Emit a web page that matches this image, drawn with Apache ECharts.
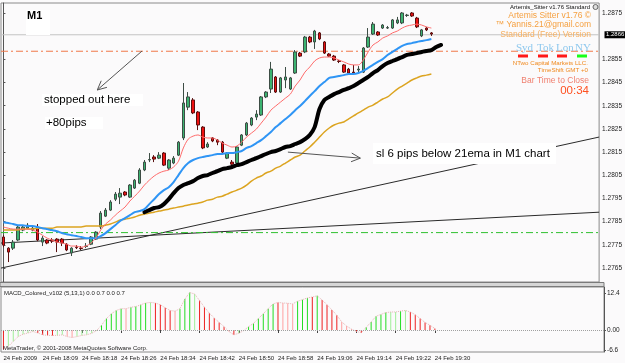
<!DOCTYPE html>
<html><head><meta charset="utf-8">
<script src="https://cdn.jsdelivr.net/npm/echarts@6/dist/echarts.min.js"></script>
<style>html,body{margin:0;padding:0;background:#fbfafb}#c{width:625px;height:363px}</style>
</head><body><div id="c"></div>
<script>
// ---------- data ----------
const tickLabels = ['24 Feb 2009','24 Feb 18:09','24 Feb 18:18','24 Feb 18:26','24 Feb 18:34','24 Feb 18:42',
  '24 Feb 18:50','24 Feb 18:58','24 Feb 19:06','24 Feb 19:14','24 Feb 19:22','24 Feb 19:30'];
const priceTicks = [1.2765,1.2775,1.2785,1.2795,1.2805,1.2815,1.2825,1.2835,1.2845,1.2855,1.2875];
const macdTicks = [12.4, 0, -6.6];

const opens = [1.27784,1.27736,1.27736,1.27771,1.27814,1.27822,1.27814,1.27827,1.27762,1.27771,
1.27771,1.27775,1.27775,1.27753,1.27715,1.27740,1.27736,1.27743,1.27753,1.27775,
1.27827,1.27874,1.27900,1.27947,1.27956,1.27978,1.27956,1.27995,1.28016,1.28073,
1.28116,1.28129,1.28124,1.28146,1.28081,1.28103,1.28137,1.28211,1.28344,1.28375,
1.28323,1.28258,1.28172,1.28211,1.28202,1.28193,1.28124,1.28107,1.28103,1.28180,
1.28224,1.28267,1.28301,1.28310,1.28388,1.28422,1.28474,1.28409,1.28461,1.28422,
1.28491,1.28577,1.28582,1.28646,1.28625,1.28664,1.28625,1.28573,1.28564,1.28543,
1.28526,1.28508,1.28495,1.28504,1.28495,1.28603,1.28659,1.28668,1.28685,1.28685,
1.28685,1.28707,1.28707,1.28739,1.28750,1.28728,1.28651,1.28685,1.28664];
const closes = [1.27749,1.27719,1.27762,1.27827,1.27827,1.27835,1.27822,1.27771,1.27779,1.27758,
1.27766,1.27762,1.27758,1.27728,1.27736,1.27738,1.27734,1.27745,1.27784,1.27805,
1.27887,1.27900,1.27935,1.27969,1.27973,1.27965,1.28008,1.28029,1.28073,1.28107,
1.28118,1.28120,1.28137,1.28094,1.28116,1.28124,1.28193,1.28362,1.28388,1.28319,
1.28267,1.28168,1.28185,1.28198,1.28193,1.28150,1.28146,1.28098,1.28172,1.28224,
1.28275,1.28297,1.28314,1.28388,1.28409,1.28508,1.28409,1.28470,1.28474,1.28470,
1.28582,1.28564,1.28646,1.28625,1.28672,1.28638,1.28577,1.28564,1.28547,1.28541,
1.28495,1.28491,1.28491,1.28508,1.28599,1.28646,1.28702,1.28655,1.28698,1.28687,
1.28720,1.28720,1.28750,1.28741,1.28737,1.28690,1.28677,1.28677,1.28659];
const lows = [1.27740,1.27676,1.27728,1.27766,1.27809,1.27818,1.27809,1.27766,1.27745,1.27753,
1.27758,1.27719,1.27745,1.27723,1.27702,1.27732,1.27728,1.27736,1.27749,1.27771,
1.27818,1.27870,1.27896,1.27939,1.27926,1.27960,1.27952,1.27991,1.28012,1.28068,
1.28107,1.28107,1.28120,1.28090,1.28073,1.28098,1.28133,1.28202,1.28331,1.28314,
1.28245,1.28163,1.28168,1.28193,1.28180,1.28146,1.28120,1.28094,1.28098,1.28176,
1.28219,1.28262,1.28288,1.28306,1.28383,1.28405,1.28405,1.28405,1.28426,1.28418,
1.28487,1.28560,1.28577,1.28620,1.28595,1.28633,1.28573,1.28560,1.28543,1.28534,
1.28491,1.28487,1.28487,1.28495,1.28491,1.28599,1.28655,1.28651,1.28681,1.28681,
1.28681,1.28702,1.28702,1.28733,1.28733,1.28685,1.28646,1.28672,1.28651];
const highs = [1.27792,1.27740,1.27771,1.27835,1.27835,1.27844,1.27831,1.27840,1.27788,1.27775,
1.27779,1.27779,1.27779,1.27758,1.27740,1.27749,1.27745,1.27758,1.27788,1.27809,
1.27896,1.27909,1.27943,1.27978,1.27995,1.27982,1.28012,1.28034,1.28081,1.28116,
1.28146,1.28137,1.28150,1.28150,1.28120,1.28133,1.28198,1.28448,1.28409,1.28383,
1.28327,1.28262,1.28193,1.28215,1.28206,1.28198,1.28150,1.28116,1.28176,1.28228,
1.28280,1.28301,1.28331,1.28392,1.28413,1.28539,1.28478,1.28474,1.28517,1.28474,
1.28590,1.28582,1.28651,1.28651,1.28677,1.28668,1.28629,1.28577,1.28569,1.28547,
1.28530,1.28513,1.28526,1.28521,1.28603,1.28685,1.28711,1.28672,1.28702,1.28694,
1.28724,1.28733,1.28754,1.28746,1.28754,1.28733,1.28681,1.28690,1.28668];

const maRed = [1.27827,1.27822,1.27818,1.27818,1.27818,1.27818,1.27814,1.27805,1.27792,1.27779,
1.27771,1.27762,1.27758,1.27753,1.27745,1.27745,1.27740,1.27745,1.27758,1.27779,
1.27814,1.27840,1.27857,1.27878,1.27896,1.27913,1.27939,1.27960,1.27982,1.28008,
1.28029,1.28047,1.28060,1.28068,1.28073,1.28086,1.28111,1.28168,1.28206,1.28219,
1.28224,1.28215,1.28211,1.28211,1.28202,1.28189,1.28180,1.28172,1.28176,1.28193,
1.28215,1.28232,1.28249,1.28275,1.28301,1.28331,1.28349,1.28366,1.28383,1.28400,
1.28435,1.28461,1.28495,1.28517,1.28543,1.28556,1.28560,1.28560,1.28556,1.28547,
1.28539,1.28530,1.28526,1.28526,1.28547,1.28582,1.28612,1.28625,1.28642,1.28651,
1.28664,1.28672,1.28685,1.28694,1.28698,1.28702,1.28698,1.28690,1.28685];
const maBlue = [1.27848,1.27844,1.27840,1.27835,1.27835,1.27831,1.27831,1.27827,1.27822,1.27818,
1.27814,1.27809,1.27801,1.27796,1.27792,1.27788,1.27784,1.27779,1.27779,1.27779,
1.27788,1.27801,1.27818,1.27835,1.27853,1.27865,1.27878,1.27891,1.27896,1.27904,
1.27926,1.27947,1.27969,1.27986,1.27999,1.28021,1.28051,1.28081,1.28103,1.28116,
1.28124,1.28129,1.28133,1.28137,1.28142,1.28142,1.28146,1.28146,1.28150,1.28155,
1.28168,1.28176,1.28189,1.28202,1.28219,1.28237,1.28258,1.28275,1.28293,1.28310,
1.28331,1.28349,1.28370,1.28392,1.28413,1.28435,1.28452,1.28470,1.28474,1.28478,
1.28482,1.28487,1.28487,1.28491,1.28500,1.28513,1.28526,1.28539,1.28551,1.28569,
1.28582,1.28595,1.28608,1.28616,1.28620,1.28625,1.28629,1.28633,1.28638];
const maBlackStart = 29;
const maBlack = [1.27891,1.27900,1.27909,1.27913,1.27926,1.27947,1.27973,1.27995,1.28008,1.28016,
1.28025,1.28038,1.28047,1.28051,1.28060,1.28068,1.28077,1.28081,1.28086,1.28094,
1.28098,1.28107,1.28116,1.28124,1.28133,1.28142,1.28150,1.28155,1.28163,1.28172,
1.28176,1.28185,1.28193,1.28206,1.28224,1.28258,1.28336,1.28375,1.28388,1.28400,
1.28409,1.28418,1.28426,1.28435,1.28448,1.28461,1.28474,1.28491,1.28504,1.28521,
1.28534,1.28543,1.28551,1.28560,1.28569,1.28573,1.28577,1.28582,1.28586,1.28590,
1.28603,1.28612];
const maOrange = [1.27814,1.27814,1.27814,1.27814,1.27818,1.27818,1.27818,1.27822,1.27822,1.27822,
1.27822,1.27827,1.27827,1.27827,1.27827,1.27827,1.27827,1.27831,1.27831,1.27831,
1.27831,1.27835,1.27840,1.27848,1.27857,1.27861,1.27865,1.27870,1.27878,1.27883,
1.27887,1.27891,1.27896,1.27900,1.27904,1.27909,1.27913,1.27917,1.27922,1.27926,
1.27930,1.27935,1.27943,1.27947,1.27956,1.27960,1.27969,1.27978,1.27986,1.27995,
1.28008,1.28025,1.28038,1.28047,1.28060,1.28068,1.28081,1.28090,1.28103,1.28116,
1.28129,1.28137,1.28155,1.28172,1.28193,1.28215,1.28237,1.28254,1.28267,1.28275,
1.28280,1.28293,1.28306,1.28319,1.28331,1.28344,1.28353,1.28366,1.28379,1.28388,
1.28405,1.28422,1.28435,1.28448,1.28461,1.28470,1.28478,1.28482,1.28487];

const macd = [-6.5,-5.4,-3.8,-2.2,-1.4,-1.0,-0.5,-1.0,-1.6,-1.8,
-1.8,-1.8,-1.6,-2.2,-2.5,-2.2,-1.8,-1.6,-1.1,-0.2,
1.6,3.8,5.4,6.5,7.1,7.1,7.6,7.8,8.4,9.0,
9.2,9.0,8.4,7.4,6.5,6.3,7.1,10.3,12.5,12.0,
9.8,7.6,5.6,4.0,2.5,1.1,-0.5,-1.6,-1.1,-0.2,
1.1,2.2,3.8,5.4,7.1,8.7,9.2,9.0,8.9,8.7,
9.6,10.1,10.7,11.0,11.4,10.0,8.4,6.7,4.9,2.7,
1.3,0.3,-0.5,-0.9,0.9,2.7,4.6,5.2,5.8,6.0,
6.0,6.3,6.5,6.0,5.1,3.8,2.5,1.6,0.5];
const macdColorCodes = ['R','g','g','g','g','g','g','R','R','R',
'R','g','g','r','r','g','g','g','g','g',
'G','G','G','G','G','r','G','G','G','G',
'g','R','R','R','R','r','G','G','G','g',
'R','R','R','R','R','R','r','R','g','g',
'G','G','G','G','G','G','R','r','r','r',
'G','G','G','R','G','R','R','R','R','r',
'r','r','R','R','G','G','G','G','G','g',
'g','G','g','R','R','R','R','R','R'];

const bidLevel = 1.28656, bidText = '1.2866';
const entryLevel = 1.28585;
const greenLevel = 1.27803;
const trend1 = [[-0.5, 1.27650], [122.5, 1.28215]];
const trend2 = [[-0.5, 1.27758], [122.5, 1.27891]];
const arrow1 = [[28.5, 1.28586], [19.3, 1.28418]];
const arrow2 = [[58.5, 1.28150], [73.4, 1.28124]];

// ---------- chart ----------
const nSlots = 123;
const labelEvery = 8;
const lastBar = opens.length - 1;
const cats = Array.from({length: nSlots}, (_, i) => String(i));
const candleData = opens.map((o, i) => [o, closes[i], lows[i], highs[i]]);
const blackData = new Array(maBlackStart).fill(null).concat(maBlack);
const cMap = {G:'#22dd22', g:'#a0ee98', R:'#ee2020', r:'#ffa0a0'};
const macdData = macd.map((v, i) => ({value: v, itemStyle: {color: cMap[macdColorCodes[i]]}}));
const showIdx = (idx) => idx % labelEvery === 0 && idx <= lastBar;
const FONT = 'Arial, "Liberation Sans", sans-serif';
const dashDot = [7, 3, 2, 3];
const span = (lvl) => [[-0.5, lvl], [nSlots - 0.5, lvl]];
const hLine = (lvl, color, type) => ({type: 'line', xAxisIndex: 2, yAxisIndex: 0, data: span(lvl), symbol: 'none',
  lineStyle: {color: color, width: 1, type: type}, silent: true, z: 1});

const chart = echarts.init(document.getElementById('c'), null, {renderer: 'canvas', width: 625, height: 363});
const option = {
  animation: false,
  backgroundColor: '#fbfafb',
  textStyle: {fontFamily: FONT},
  grid: [
    {left: 1, top: 3, width: 603, height: 279, show: true, borderColor: '#8a8a8a', borderWidth: 1},
    {left: 1, top: 287, width: 603, height: 65, show: true, borderColor: '#8a8a8a', borderWidth: 1}
  ],
  xAxis: [
    {type: 'category', gridIndex: 0, data: cats, boundaryGap: true, axisLine: {show: false}, axisTick: {show: false}, axisLabel: {show: false}, splitLine: {show: false}},
    {type: 'category', gridIndex: 1, data: cats, boundaryGap: true, axisLine: {show: false},
      axisTick: {show: true, length: 3, alignWithLabel: true, interval: (i) => showIdx(i), lineStyle: {color: '#444'}},
      axisLabel: {interval: (i) => showIdx(i), formatter: (v, i) => tickLabels[Math.round(i / labelEvery)] || '', align: 'left', fontSize: 6, color: '#222', margin: 3, fontFamily: FONT},
      splitLine: {show: false}},
    {type: 'value', gridIndex: 0, min: -0.5, max: nSlots - 0.5, show: false}
  ],
  yAxis: [
    {type: 'value', gridIndex: 0, position: 'right', min: 1.27590, max: 1.28793,
      axisLine: {show: true, lineStyle: {color: '#555'}},
      axisTick: {show: true, length: 2, customValues: priceTicks, lineStyle: {color: '#555'}},
      axisLabel: {customValues: priceTicks, formatter: (v) => v.toFixed(4), fontSize: 6.5, margin: 3, color: '#222', fontFamily: FONT},
      splitLine: {show: false}},
    {type: 'value', gridIndex: 1, position: 'right', min: -7.33, max: 14.33,
      axisLine: {show: true, lineStyle: {color: '#555'}},
      axisTick: {show: true, length: 2, customValues: macdTicks, lineStyle: {color: '#555'}},
      axisLabel: {customValues: macdTicks, formatter: (v) => v === 0 ? '0.00' : v.toFixed(1), fontSize: 6.5, margin: 3, color: '#222', fontFamily: FONT},
      splitLine: {show: false}}
  ],
  series: [
    {type: 'line', xAxisIndex: 2, yAxisIndex: 0, data: trend1, symbol: 'none', lineStyle: {color: '#2a2a2a', width: 1}, silent: true, z: 1},
    {type: 'line', xAxisIndex: 2, yAxisIndex: 0, data: trend2, symbol: 'none', lineStyle: {color: '#2a2a2a', width: 1}, silent: true, z: 1},
    hLine(bidLevel, '#c4c4c4', 'solid'),
    hLine(entryLevel, '#f07848', dashDot),
    hLine(greenLevel, '#30c030', dashDot),
    {type: 'candlestick', xAxisIndex: 0, yAxisIndex: 0, data: candleData, barWidth: 3,
      itemStyle: {color: '#3cb371', color0: '#ee1010', borderColor: '#3d4d45', borderColor0: '#5a1010', borderWidth: 1}, z: 2},
    {type: 'line', xAxisIndex: 0, yAxisIndex: 0, data: maOrange, symbol: 'none', smooth: 0.3, lineStyle: {color: '#dca420', width: 1.5}, silent: true, z: 3},
    {type: 'line', xAxisIndex: 0, yAxisIndex: 0, data: blackData, symbol: 'none', smooth: 0.3, connectNulls: false, lineStyle: {color: '#000', width: 4, cap: 'round', join: 'round'}, silent: true, z: 3},
    {type: 'line', xAxisIndex: 0, yAxisIndex: 0, data: maBlue, symbol: 'none', smooth: 0.3, lineStyle: {color: '#2f95f5', width: 2}, silent: true, z: 3},
    {type: 'line', xAxisIndex: 0, yAxisIndex: 0, data: maRed, symbol: 'none', smooth: 0.3, lineStyle: {color: '#ff6b6b', width: 1}, silent: true, z: 3},
    {type: 'bar', xAxisIndex: 1, yAxisIndex: 1, data: macdData, barWidth: 1, silent: true,
      markLine: {silent: true, symbol: 'none', label: {show: false}, data: [{yAxis: 0}], lineStyle: {color: '#a0a0a0', type: 'dotted', width: 1}}},
    {type: 'line', xAxisIndex: 1, yAxisIndex: 1, data: macd, symbol: 'none', lineStyle: {color: '#e8b4b4', width: 1, type: 'dotted'}, silent: true}
  ]
};
chart.setOption(option);

// ---------- annotations ----------
const toPx = (pt) => chart.convertToPixel({seriesIndex: 0}, pt);
function arrowEls(seg) {
  const a = toPx(seg[0]), b = toPx(seg[1]);
  const ang = Math.atan2(a[1] - b[1], a[0] - b[0]);
  const L = 10, w = 0.45;
  const h1 = [b[0] + L * Math.cos(ang + w), b[1] + L * Math.sin(ang + w)];
  const h2 = [b[0] + L * Math.cos(ang - w), b[1] + L * Math.sin(ang - w)];
  return [
    {type: 'line', shape: {x1: a[0], y1: a[1], x2: b[0], y2: b[1]}, style: {stroke: '#555', lineWidth: 1}, z: 50},
    {type: 'polyline', shape: {points: [h1, b, h2]}, style: {stroke: '#555', lineWidth: 1, fill: null}, z: 50}
  ];
}
function txt(text, x, y, font, fill, align) {
  return {type: 'text', z: 60, style: {text: text, x: x, y: y, font: font, fill: fill,
    align: align || 'left', textAlign: align || 'left', verticalAlign: 'middle', textVerticalAlign: 'middle'}};
}
function box(x, y, w, h, fill) {
  return {type: 'rect', z: 55, shape: {x: x, y: y, width: w, height: h}, style: {fill: fill || '#fff'}};
}
const bidY = toPx([0, bidLevel])[1];
const F = (s, fam) => s + 'px ' + (fam || FONT);
const orange = '#f5a040';
const serif = '"Liberation Serif", "DejaVu Serif", serif';
const els = [].concat(
  arrowEls(arrow1), arrowEls(arrow2),
  [
    box(26, 10, 24, 25), txt('M1', 27, 16, 'bold ' + F(11), '#000'),
    box(42, 94, 101, 12), txt('stopped out here', 44, 100, F(11.5), '#000'),
    box(45, 117, 58, 12), txt('+80pips', 46, 123, F(11.5), '#000'),
    box(373, 143, 183, 21), txt('sl 6 pips below 21ema in M1 chart', 376, 153.5, F(11.5), '#000'),
    {type: 'rect', z: 40, shape: {x: 0, y: 282.5, width: 604, height: 4}, style: {fill: '#d6d6d6', stroke: '#7a7a7a', lineWidth: 1}},
    box(604.5, bidY - 3.5, 20.5, 7, '#000'), txt(bidText, 606, bidY, F(6), '#fff'),
    txt('Artemis_Sitter v1.76 Standard', 590, 7, F(6), '#111', 'right'),
    {type: 'circle', z: 60, shape: {cx: 595.5, cy: 7, r: 2.5}, style: {fill: '#ddd', stroke: '#666', lineWidth: 1}},
    txt('Artemis Sitter v1.76 \u00a9', 591, 15.5, F(8.5), orange, 'right'),
    txt('\u2122 Yannis.21@gmail.com', 591, 25, F(8.5), orange, 'right'),
    txt('Standard (Free) Version', 591, 34.5, F(8.5), '#f7b060', 'right'),
    txt('Syd', 516, 48, F(11, serif), '#8ec8ee'),
    txt('Tok', 537, 48, F(11, serif), '#8ec8ee'),
    txt('Lon', 556, 48, F(11, serif), '#8ec8ee'),
    txt('NY', 575, 48, F(11, serif), '#8ec8ee'),
    box(518, 54.5, 10, 3, '#ff1818'), box(538, 54.5, 10, 3, '#ff1818'),
    box(557, 54.5, 10, 3, '#ff1818'), box(577, 54.5, 10, 3, '#18ff18'),
    txt('NTwo Capital Markets LLC.', 588, 63, F(6.2), '#f08a20', 'right'),
    txt('TimeShift GMT +0', 588, 70, F(6.2), '#f08a20', 'right'),
    txt('Bar Time to Close', 589, 80.5, F(8.5), '#f08070', 'right'),
    txt('00:34', 589, 91, F(11.5), '#ff5020', 'right'),
    txt('MACD_Colored_v102 (5,13,1) 0.0 0.7 0.0 0.7', 4, 293, F(6), '#222'),
    txt('MetaTrader, \u00a9 2001-2008 MetaQuotes Software Corp.', 3, 348, F(6), '#222')
  ]
);
chart.setOption({graphic: {elements: els}});
</script></body></html>
